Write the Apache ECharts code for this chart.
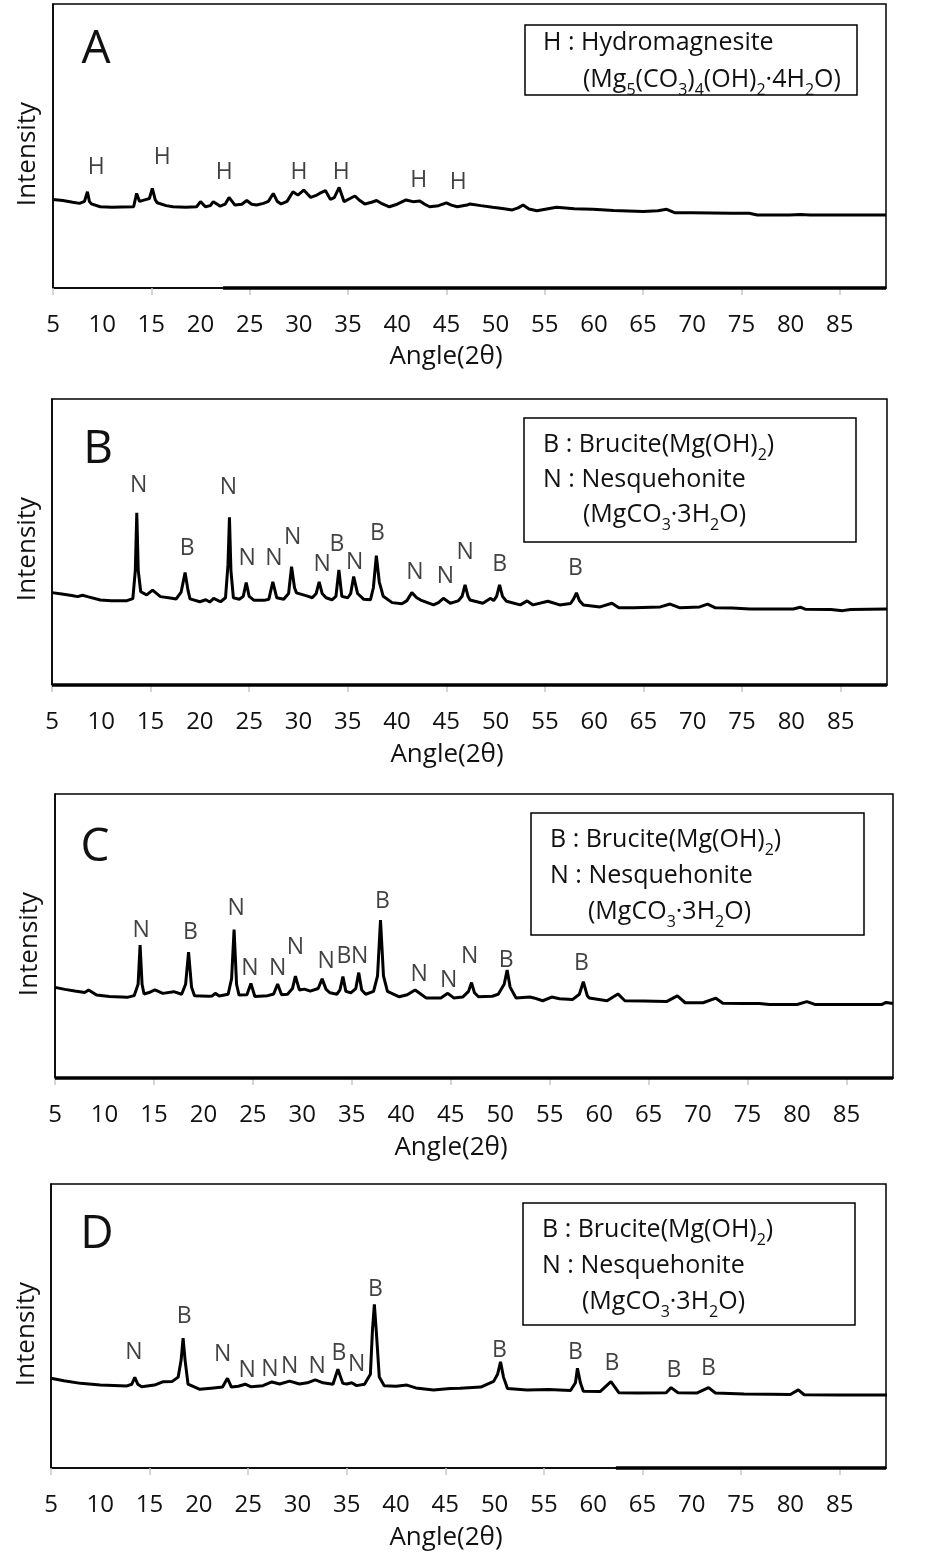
<!DOCTYPE html>
<html>
<head>
<meta charset="utf-8">
<script src="https://cdn.jsdelivr.net/npm/echarts@6/dist/echarts.min.js"></script>
<style>
html, body { margin: 0; padding: 0; background: #fff; }
#chart { width: 939px; height: 1557px; }
</style>
</head>
<body>
<div id="chart"></div>
<script>
// x axis: labels every 5, tick marks every 10 starting at 5
var labelValues = [5, 10, 15, 20, 25, 30, 35, 40, 45, 50, 55, 60, 65, 70, 75, 80, 85];
var tickValues = [5, 15, 25, 35, 45, 55, 65, 75, 85];

// diffraction patterns, [2theta, intensity]
var xrdA = [[5.0,31.2],[6.0,30.8],[7.0,30.2],[7.7,29.8],[8.2,30.5],[8.5,33.9],[8.7,30.5],[8.9,29.6],[9.8,28.6],[11,28.4],[12,28.5],[13.2,28.6],[13.5,33.3],[13.8,30.5],[14.0,30.8],[14.5,31.2],[14.8,31.5],[15.1,35.1],[15.4,31.0],[15.6,30.0],[16.5,29.0],[17.2,28.6],[18.5,28.4],[19.6,28.6],[20.0,30.4],[20.5,28.6],[21.0,29.0],[21.3,30.4],[21.7,29.5],[22.0,28.8],[22.5,29.5],[22.9,31.9],[23.5,29.2],[24.2,29.5],[24.7,30.8],[25.2,29.5],[25.7,29.2],[26.4,29.8],[26.9,30.5],[27.4,33.3],[27.8,30.5],[28.2,29.6],[28.8,30.5],[29.4,33.9],[29.9,32.7],[30.5,34.5],[30.9,33.0],[31.2,31.9],[31.7,32.5],[32.1,33.3],[32.7,34.3],[33.2,31.2],[33.6,31.8],[34.1,35.4],[34.6,30.4],[35.2,31.5],[35.7,32.4],[36.2,30.8],[36.7,29.6],[37.4,30.2],[37.9,30.8],[38.5,29.6],[39.2,28.6],[40.0,29.5],[40.9,31.0],[41.6,30.4],[42.3,30.6],[42.8,29.5],[43.3,28.6],[44.2,29.0],[45.0,30.0],[45.5,29.2],[46.1,28.6],[47.1,29.2],[47.4,29.6],[48.5,29.0],[49.7,28.4],[50.7,28.0],[51.7,27.5],[52.3,28.2],[52.8,29.2],[53.4,27.8],[54.2,27.2],[55.2,27.8],[56.2,28.4],[58.0,27.9],[59.9,27.7],[62.0,27.3],[65.0,26.9],[66.5,27.2],[67.4,27.7],[68.2,26.5],[70,26.5],[72,26.4],[74,26.3],[75.8,26.3],[76.6,25.7],[79.9,25.7],[81,25.9],[82,25.7],[89.7,25.7]];

var xrdB = [[5.0,32.3],[6.0,31.8],[7.0,31.3],[7.6,30.9],[8.1,31.4],[8.6,30.9],[9.9,29.7],[11,29.5],[12.6,29.5],[13.2,30.2],[13.45,40],[13.6,60.2],[13.75,40],[14.0,32.6],[14.6,31.5],[15.2,33.2],[16.0,30.9],[17.0,30.4],[17.6,30.1],[18.1,32.5],[18.5,39.3],[18.8,33],[19.0,30.1],[20.0,29.1],[20.6,29.8],[21.0,29.0],[21.4,30.3],[22.1,29.1],[22.6,30.5],[22.85,42],[23.0,58.6],[23.15,40],[23.4,30.5],[24.0,30.0],[24.4,31],[24.7,35.8],[25.0,31],[25.5,29.6],[26.5,29.6],[27.0,30.0],[27.4,36.1],[27.8,30.5],[28.5,30.0],[29.0,32],[29.3,41.4],[29.6,34],[29.8,32.2],[30.5,31.5],[31.0,31.0],[31.4,30.5],[31.8,32],[32.1,36.1],[32.4,32],[32.8,30.5],[33.4,29.8],[33.8,31],[34.1,40.2],[34.4,31],[35.0,30.5],[35.3,32],[35.6,37.9],[36.0,32],[36.6,30],[37.3,29.8],[37.6,34],[37.9,45.2],[38.2,36],[38.6,31],[39.5,28.8],[40.5,28.4],[41.0,29.5],[41.5,32.3],[42.0,30.5],[42.4,29.7],[43.7,28.0],[44.2,28.8],[44.7,30.3],[45.4,28.6],[46.2,29.4],[46.6,31],[46.9,35.0],[47.2,31],[47.4,29.7],[48.7,28.6],[49.5,30.3],[49.8,29.5],[50.1,31],[50.4,35.0],[50.7,31],[51.1,29.3],[52.5,28.0],[53.2,29.4],[53.8,28.0],[55.3,29.3],[56.5,28.0],[57.6,28.5],[57.9,30],[58.2,32.2],[58.5,29.5],[58.9,28.0],[60.6,27.3],[61.8,28.6],[62.5,27.0],[64,27.0],[66.7,27.3],[67.7,28.3],[68.7,27.0],[70.7,27.3],[71.5,28.3],[72.3,27.0],[74,26.9],[75.8,26.6],[78,26.6],[80.2,26.6],[80.9,27.2],[81.4,26.5],[84,26.4],[85.2,26.0],[86,26.4],[89.7,26.6]];

var xrdC = [[5.0,31.9],[6.0,31.2],[7.0,30.6],[8.0,30.1],[8.4,31.0],[9.2,29.2],[10.5,28.7],[12.3,28.4],[13.0,29.0],[13.4,33],[13.6,46.8],[13.8,33],[14.0,29.6],[14.6,30.2],[15.1,31.0],[15.9,29.8],[17.0,30.4],[17.8,29.5],[18.2,33],[18.5,44.3],[18.8,32],[19.1,29.0],[20.5,28.8],[20.9,28.9],[21.2,29.8],[21.6,28.9],[22.5,29.5],[22.85,35],[23.1,52.3],[23.35,33],[23.6,29.2],[24.4,29.3],[24.8,33.3],[25.2,28.7],[26.5,29.0],[27.1,29.6],[27.5,33.1],[27.9,29.3],[28.5,29.5],[29.0,31.5],[29.3,35.9],[29.7,31.0],[30.2,31.3],[30.8,30.6],[31.6,31.5],[32.0,34.9],[32.4,31.2],[32.8,30.0],[33.5,29.5],[33.8,31],[34.1,35.7],[34.4,30.5],[34.9,30.0],[35.4,31.5],[35.7,37.1],[36.0,31],[36.4,29.5],[37.2,30.5],[37.6,36],[37.9,55.6],[38.2,36],[38.6,30.5],[39.8,28.6],[40.6,29.3],[41.4,31.0],[42.0,29.5],[42.5,28.2],[44.0,28.2],[44.7,29.8],[45.3,28.2],[46.2,28.5],[46.8,30.5],[47.1,33.6],[47.4,30],[47.8,28.6],[49.2,28.8],[49.8,29.5],[50.4,33],[50.7,38.0],[51.0,32],[51.6,28.2],[53.0,28.5],[53.4,28.2],[54.3,27.2],[55.2,28.5],[56.0,27.9],[57.3,27.6],[58.0,29.5],[58.4,33.9],[58.8,29],[59.0,28.2],[60.8,27.2],[61.9,29.6],[62.6,27.2],[64.5,27.1],[66.8,26.9],[67.9,28.9],[68.7,26.5],[70.5,26.5],[71.8,28.1],[72.5,26.3],[74.5,26.2],[76.2,26.2],[77.2,25.9],[80,25.9],[81,26.9],[81.8,25.9],[85,25.9],[88.6,25.9],[89.0,26.6],[89.7,26.2]];

var xrdD = [[5.0,31.6],[6.3,30.7],[8.0,29.8],[10.0,29.2],[12.7,28.9],[13.2,29.5],[13.5,31.9],[13.8,29.5],[14.2,28.6],[15.5,29.2],[16.4,30.4],[17.3,30.5],[17.9,32.0],[18.2,38],[18.4,45.7],[18.6,38],[18.9,29.5],[20.1,27.7],[21.5,28.2],[22.4,28.5],[22.9,31.6],[23.3,28.5],[24.0,28.8],[24.7,29.5],[25.3,28.6],[26.5,29.0],[27.4,30.3],[28.2,29.6],[29.2,30.6],[30.2,29.6],[31.0,30.0],[31.8,31.0],[32.6,30.0],[33.6,29.5],[34.1,34.8],[34.6,29.8],[35.0,29.6],[35.5,30.0],[36.0,29.0],[36.8,29.5],[37.4,33],[37.6,48],[37.8,57.6],[38.0,48],[38.3,32],[38.8,29.0],[40.0,28.8],[41.1,29.2],[42.0,28.2],[43.8,27.5],[45.5,28.0],[46.5,28.1],[48.6,28.5],[49.9,30.5],[50.3,33],[50.6,37.4],[50.9,32],[51.3,28.0],[53.3,27.5],[55.5,27.6],[57.7,27.3],[58.2,30],[58.4,35.1],[58.7,30],[59.0,27.0],[60.7,26.9],[61.8,30.4],[62.6,26.5],[64.5,26.4],[67.4,26.5],[67.9,28.3],[68.6,26.5],[70.5,26.4],[71.7,28.3],[72.4,26.4],[75.3,26.1],[78,26.0],[80.0,25.9],[80.8,27.5],[81.4,25.8],[85,25.7],[89.8,25.7]];

// second trace lying on the axis floor (drawn thick in the original)
var floorA = [[22.3,0],[89.7,0]];
var floorB = [[5,0],[89.7,0]];
var floorC = [[5,0],[89.7,0]];
var floorD = [[62.3,0],[89.7,0]];

// phase tags: [2theta, height, letter]
var tagsA = [[9.4,42.3,'H'],[16.1,46.1,'H'],[22.4,40.8,'H'],[30.0,40.8,'H'],[34.3,40.8,'H'],[42.2,38.0,'H'],[46.2,37.3,'H']];
var tagsB = [[13.8,69.9,'N'],[18.7,47.6,'B'],[22.9,68.9,'N'],[24.8,44.4,'N'],[27.5,44.4,'N'],[29.4,51.7,'N'],[32.4,42.0,'N'],[33.9,49.3,'B'],[35.7,43.0,'N'],[38.0,53.1,'B'],[41.8,39.5,'N'],[44.9,37.8,'N'],[46.9,46.5,'N'],[50.4,42.3,'B'],[58.1,40.9,'B']];
var tagsC = [[13.7,52.1,'N'],[18.7,51.2,'B'],[23.3,59.7,'N'],[24.7,38.6,'N'],[27.5,38.6,'N'],[29.3,46.0,'N'],[32.4,41.0,'N'],[34.2,42.7,'B'],[35.8,42.7,'N'],[38.1,62.1,'B'],[41.8,36.3,'N'],[44.8,34.5,'N'],[46.9,42.7,'N'],[50.6,41.5,'B'],[58.2,40.4,'B']];
var tagsD = [[13.4,40.6,'N'],[18.5,53.3,'B'],[22.4,40.1,'N'],[24.9,34.3,'N'],[27.2,34.8,'N'],[29.2,35.7,'N'],[32.0,35.7,'N'],[34.2,40.4,'B'],[36.0,36.3,'N'],[37.9,62.7,'B'],[50.5,41.5,'B'],[58.2,40.6,'B'],[61.9,36.9,'B'],[68.2,34.5,'B'],[71.7,35.1,'B']];

var legendHN = ['H : Hydromagnesite', '(Mg{s|5}(CO{s|3}){s|4}(OH){s|2}·4H{s|2}O)'];
var legendBN = ['B : Brucite(Mg(OH){s|2})', 'N : Nesquehonite', '(MgCO{s|3}·3H{s|2}O)'];

var FONT = 'Open Sans';
var INK = '#111';

// layout of the four panels
var panels = [
    { letter: 'A', data: xrdA, floor: floorA, tags: tagsA, grid: [53, 4, 833, 284],
      letterPos: [96, 50], yName: [28, 154], xName: [446, 357],
      box: [525, 25, 332, 70], lines: legendHN, linePos: [[543, 43], [583, 80]] },
    { letter: 'B', data: xrdB, floor: floorB, tags: tagsB, grid: [52, 399, 835, 286],
      letterPos: [98, 450], yName: [28, 549], xName: [447, 755],
      box: [524, 418, 332, 124], lines: legendBN, linePos: [[543, 445], [543, 480], [583, 515]] },
    { letter: 'C', data: xrdC, floor: floorC, tags: tagsC, grid: [55, 794, 838, 284],
      letterPos: [95, 848], yName: [30, 944], xName: [451, 1148],
      box: [531, 813, 333, 122], lines: legendBN, linePos: [[550, 840], [550, 876], [588, 912]] },
    { letter: 'D', data: xrdD, floor: floorD, tags: tagsD, grid: [51, 1184, 835, 284],
      letterPos: [97, 1235], yName: [27, 1334], xName: [446, 1538],
      box: [523, 1203, 332, 122], lines: legendBN, linePos: [[542, 1230], [542, 1266], [582, 1302]] }
];

var option = {
    backgroundColor: '#fff',
    animation: false,
    grid: [], xAxis: [], yAxis: [], series: [], graphic: []
};

panels.forEach(function (p, i) {
    option.grid.push({
        left: p.grid[0], top: p.grid[1], width: p.grid[2], height: p.grid[3],
        show: true, borderColor: '#000', borderWidth: 1.5
    });
    option.xAxis.push({
        type: 'value', gridIndex: i, min: 5, max: 89.7,
        splitLine: { show: false },
        axisLine: { lineStyle: { color: '#000', width: 1.5 } },
        axisTick: { show: true, customValues: tickValues, length: 7, lineStyle: { color: '#c8c8c8', width: 1.5 } },
        axisLabel: { customValues: labelValues, margin: 25, fontSize: 24, fontFamily: FONT, color: INK }
    });
    option.yAxis.push({
        type: 'value', gridIndex: i, min: 0, max: 100,
        splitLine: { show: false },
        axisLine: { show: true, lineStyle: { color: '#000', width: 1.5 } },
        axisTick: { show: false },
        axisLabel: { show: false }
    });
    option.series.push({
        type: 'line', xAxisIndex: i, yAxisIndex: i, data: p.data,
        symbol: 'none', lineStyle: { color: '#000', width: 3 }, z: 3
    });
    option.series.push({
        type: 'line', xAxisIndex: i, yAxisIndex: i, data: p.floor, clip: false,
        symbol: 'none', lineStyle: { color: '#000', width: 3.5 }, z: 3
    });
    option.series.push({
        type: 'scatter', xAxisIndex: i, yAxisIndex: i, data: p.tags,
        symbolSize: 0, z: 4,
        label: {
            show: true, position: 'inside', fontSize: 23, fontFamily: FONT, color: INK,
            formatter: function (d) { return d.data[2]; }
        }
    });

    // panel letter
    option.graphic.push({
        type: 'text', x: p.letterPos[0], y: p.letterPos[1],
        style: { text: p.letter, font: '46px "' + FONT + '"', fill: INK, align: 'center', verticalAlign: 'middle' }
    });
    // axis names
    option.graphic.push({
        type: 'text', x: p.yName[0], y: p.yName[1], rotation: Math.PI / 2,
        style: { text: 'Intensity', font: '26px "' + FONT + '"', fill: INK, align: 'center', verticalAlign: 'middle' }
    });
    option.graphic.push({
        type: 'text', x: p.xName[0], y: p.xName[1],
        style: { text: 'Angle(2θ)', font: '26px "' + FONT + '"', fill: INK, align: 'center', verticalAlign: 'middle' }
    });
    // legend box
    option.graphic.push({
        type: 'rect', shape: { x: p.box[0], y: p.box[1], width: p.box[2], height: p.box[3] },
        style: { fill: '#fff', stroke: '#000', lineWidth: 1.5 }, z: 10
    });
    p.lines.forEach(function (t, k) {
        option.graphic.push({
            type: 'text', x: p.linePos[k][0], y: p.linePos[k][1], z: 11,
            style: {
                text: t, fontSize: 25, fontFamily: FONT, fill: INK, lineHeight: 36,
                align: 'left', verticalAlign: 'middle',
                rich: {
                    m: { fontSize: 25, fontFamily: FONT, fill: INK, lineHeight: 36, verticalAlign: 'middle' },
                    s: { fontSize: 16, fontFamily: FONT, fill: INK, verticalAlign: 'top', padding: [20, 0, 0, 0] }
                }
            }
        });
    });
});

var chart = echarts.init(document.getElementById('chart'));
chart.setOption(option);
</script>
</body>
</html>
